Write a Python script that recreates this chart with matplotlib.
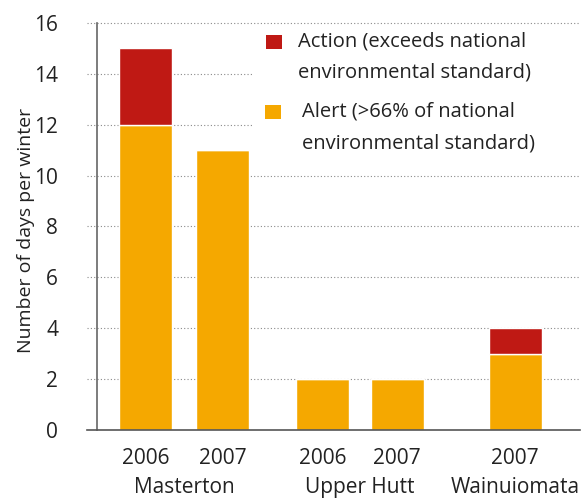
import matplotlib
matplotlib.use("Agg")
import matplotlib.pyplot as plt
from matplotlib.patches import Rectangle

plt.rcParams['font.family'] = ['Open Sans', 'DejaVu Sans']

# data
years = ["2006", "2007", "2006", "2007", "2007"]
towns = ["Masterton", "Upper Hutt", "Wainuiomata"]
alert = [12, 11, 2, 2, 3]
action = [3, 0, 0, 0, 1]
legend_labels = ["Action (exceeds national\nenvironmental standard)",
                 "Alert (>66% of national\nenvironmental standard)"]

# layout
x_pos = [0, 1, 2.3, 3.27, 4.8]
town_pos = [0.5, 2.785, 4.8]
width = 0.69

alert_color = "#F5A800"
action_color = "#BF1914"
grid_color = "#8a8a8a"
text_color = "#222222"

W, H = 588, 501
fig = plt.figure(figsize=(W / 100, H / 100), dpi=100)
ax = fig.add_axes([0.165, 0.142, 0.821, 0.812])

ax.bar(x_pos, alert, width, color=alert_color, edgecolor="white", linewidth=1, zorder=2)
ax.bar(x_pos, action, width, bottom=alert, color=action_color, edgecolor="white", linewidth=1, zorder=2)

ax.set_xlim(-0.63, 5.64)
ax.set_ylim(0, 16)

for y in range(2, 17, 2):
    ax.axhline(y, xmin=-0.02, xmax=1, color=grid_color, linestyle=(0, (1, 2)),
               linewidth=0.8, clip_on=False, zorder=1)
ax.axhline(0, xmin=-0.02, xmax=1, color="#555555", linewidth=1.2, clip_on=False, zorder=3)

for s in ["top", "right", "bottom"]:
    ax.spines[s].set_visible(False)
ax.spines["left"].set_color("#666666")
ax.spines["left"].set_linewidth(1.2)

ax.set_yticks(range(0, 17, 2))
ax.tick_params(axis="y", length=0, pad=28, labelsize=15, labelcolor=text_color)
ax.set_xticks(x_pos)
ax.set_xticklabels(years)
ax.tick_params(axis="x", length=0, pad=13, labelsize=15, labelcolor=text_color)

for x, name in zip(town_pos, towns):
    ax.text(x, -0.115, name, transform=ax.get_xaxis_transform(), ha="center", va="top",
            fontsize=15, color=text_color)

ax.set_ylabel("Number of days per winter", fontsize=14, color=text_color)
ax.yaxis.set_label_coords(-0.128, 0.49)

# legend, drawn by hand so the squares sit on the first line
def px(x, y):
    return x / W, 1 - y / H

fig.patches.append(Rectangle(px(253, 160), (W - 253) / W, 130 / H, transform=fig.transFigure,
                             facecolor="white", edgecolor="none", zorder=5))
for (sx, sy), (tx, ty), color, label in zip([(266, 49), (265, 119)], [(298, 31), (302, 102)],
                                            [action_color, alert_color], legend_labels):
    fig.patches.append(Rectangle(px(sx, sy), 16 / W, 14 / H, transform=fig.transFigure,
                                 facecolor=color, edgecolor="none", zorder=6))
    fig.text(*px(tx, ty), label, ha="left", va="top", fontsize=14.5, color=text_color,
             linespacing=1.75, zorder=6)

fig.savefig("out.png", dpi=100)
